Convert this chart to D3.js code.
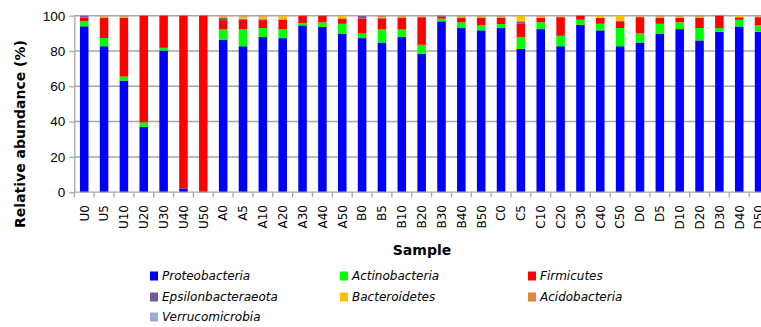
<!DOCTYPE html>
<html>
<head>
<meta charset="utf-8">
<script src="https://cdn.jsdelivr.net/npm/d3@7"></script>
<style>
  html, body { margin: 0; padding: 0; background: #fff; }
  svg { display: block; font-family: "DejaVu Sans", Verdana, sans-serif; }
  .grid line { stroke: #a6a6a6; stroke-width: 1.5; }
  .axis path, .axis line { stroke: #a6a6a6; stroke-width: 1.3; }
  .axis text { fill: #000; }
</style>
</head>
<body>
<div id="chart"></div>
<script>
// samples along the x axis
const samples = ['U0', 'U5', 'U10', 'U20', 'U30', 'U40', 'U50',
  'A0', 'A5', 'A10', 'A20', 'A30', 'A40', 'A50',
  'B0', 'B5', 'B10', 'B20', 'B30', 'B40', 'B50',
  'C0', 'C5', 'C10', 'C20', 'C30', 'C40', 'C50',
  'D0', 'D5', 'D10', 'D20', 'D30', 'D40', 'D50'];

const phyla = ['Proteobacteria', 'Actinobacteria', 'Firmicutes',
  'Epsilonbacteraeota', 'Bacteroidetes', 'Acidobacteria', 'Verrucomicrobia'];

// relative abundance (%), one value per sample
const proteobacteria = [94.0, 82.7, 63.2, 37.0, 80.3, 2.1, 0,
  86.3, 82.7, 87.9, 87.3, 94.5, 93.7, 89.9,
  87.3, 84.8, 87.9, 78.4, 96.8, 93.0, 91.7,
  93.0, 81.2, 92.4, 82.7, 94.9, 91.7, 82.7,
  84.8, 89.9, 92.4, 86.0, 90.9, 93.9, 90.9];
const actinobacteria = [3.0, 4.6, 2.3, 2.5, 1.5, 0, 0,
  5.9, 9.5, 5.1, 4.9, 1.3, 2.5, 5.5,
  2.6, 7.4, 4.3, 5.1, 1.5, 3.2, 2.8,
  2.3, 6.7, 3.8, 5.9, 2.8, 3.7, 10.3,
  5.1, 5.5, 3.8, 7.0, 2.1, 3.8, 3.6];
const firmicutes = [1.9, 11.4, 33.2, 60.5, 18.2, 97.9, 100,
  5.3, 5.5, 4.5, 5.5, 4.0, 3.6, 2.9,
  8.4, 6.1, 6.5, 15.6, 1.3, 2.5, 4.2,
  3.4, 7.5, 2.5, 10.5, 2.3, 3.3, 3.8,
  9.2, 3.3, 2.5, 5.7, 7.0, 1.4, 4.6];
const epsilonbacteraeota = [1.1, 0.3, 0.3, 0, 0, 0, 0,
  1.2, 0.6, 0.5, 0.3, 0.2, 0.2, 0.2,
  1.5, 0.6, 0.3, 0.2, 0.4, 0.3, 0.3,
  0.3, 1.4, 0.3, 0.2, 0, 0.2, 0.2,
  0.2, 0.2, 0.2, 0.2, 0, 0, 0.2];
const bacteroidetes = [0, 0.5, 0.5, 0, 0, 0, 0,
  0.8, 1.2, 1.5, 1.8, 0, 0, 1.3,
  0.2, 0.3, 0.4, 0.3, 0, 0.4, 0.4,
  0.4, 3.2, 0.4, 0.3, 0, 1.1, 3.0,
  0.3, 0.5, 0.5, 0.5, 0, 0.9, 0.3];
const acidobacteria = [0, 0.5, 0.5, 0, 0, 0, 0,
  0.5, 0.5, 0.5, 0.2, 0, 0, 0.2,
  0, 0.8, 0.6, 0.4, 0, 0.6, 0.6,
  0.6, 0, 0.6, 0.4, 0, 0, 0,
  0.4, 0.6, 0.6, 0.6, 0, 0, 0.4];
const verrucomicrobia = [0, 0, 0, 0, 0, 0, 0,
  0, 0, 0, 0, 0, 0, 0,
  0, 0, 0, 0, 0, 0, 0,
  0, 0, 0, 0, 0, 0, 0,
  0, 0, 0, 0, 0, 0, 0];

const colors = ['#0000ff', '#00ff00', '#ff0000', '#72589a', '#ffc000', '#e0853b', '#98aed6'];
const yTicks = [0, 20, 40, 60, 80, 100];

const series = [proteobacteria, actinobacteria, firmicutes, epsilonbacteraeota,
  bacteroidetes, acidobacteria, verrucomicrobia];
const rows = samples.map((s, i) => {
  const r = { sample: s };
  phyla.forEach((p, j) => { r[p] = series[j][i]; });
  return r;
});

const width = 761, height = 327;
const margin = { top: 15.7, left: 74.3, bottom: 192.2, right: 769 };

const svg = d3.select('#chart').append('svg')
  .attr('width', width).attr('height', height);

const x = d3.scaleBand().domain(samples).range([margin.left, margin.right])
  .paddingInner(0.57).paddingOuter(0.285);
const y = d3.scaleLinear().domain([0, 100]).range([margin.bottom, margin.top]);
const color = d3.scaleOrdinal().domain(phyla).range(colors);

// gridlines
svg.append('g').attr('class', 'grid')
  .selectAll('line').data(yTicks.filter((d) => d > 0)).join('line')
  .attr('x1', margin.left).attr('x2', margin.right)
  .attr('y1', (d) => y(d)).attr('y2', (d) => y(d));

// stacked bars
const stacked = d3.stack().keys(phyla)(rows);
svg.append('g').selectAll('g').data(stacked).join('g')
  .attr('fill', (d) => color(d.key))
  .selectAll('rect').data((d) => d).join('rect')
  .attr('x', (d) => x(d.data.sample))
  .attr('width', x.bandwidth())
  .attr('y', (d) => y(Math.min(100, d[1])))
  .attr('height', (d) => Math.max(0, y(d[0]) - y(Math.min(100, d[1]))));

// y axis
const yAxis = svg.append('g').attr('class', 'axis')
  .attr('transform', `translate(${margin.left},0)`)
  .call(d3.axisLeft(y).tickValues(yTicks).tickSize(5).tickSizeOuter(0).tickPadding(4));
yAxis.selectAll('text').style('font-size', '13.5px');

// x axis: ticks sit on the band edges
const step = x.step();
const xAxisG = svg.append('g').attr('class', 'axis');
xAxisG.append('line')
  .attr('x1', margin.left).attr('x2', margin.right)
  .attr('y1', margin.bottom).attr('y2', margin.bottom);
xAxisG.selectAll('line.tick').data(samples).join('line').attr('class', 'tick')
  .attr('x1', (d) => x(d) - step * 0.285).attr('x2', (d) => x(d) - step * 0.285)
  .attr('y1', margin.bottom).attr('y2', margin.bottom + 5);
xAxisG.selectAll('text').data(samples).join('text')
  .attr('transform', (d) => `translate(${x(d) + x.bandwidth() / 2},205) rotate(-90)`)
  .attr('text-anchor', 'end')
  .attr('dy', '0.36em')
  .style('font-size', '12px')
  .text((d) => d);

// axis titles
svg.append('text')
  .attr('transform', 'translate(20,134) rotate(-90)')
  .attr('text-anchor', 'middle').attr('dy', '0.36em')
  .style('font-size', '14px').style('font-weight', 'bold')
  .text('Relative abundance (%)');
svg.append('text')
  .attr('x', 422).attr('y', 255)
  .attr('text-anchor', 'middle')
  .style('font-size', '14px').style('font-weight', 'bold')
  .text('Sample');

// legend, three columns
const legendCols = [150, 340, 528];
const legendRows = [276, 297, 317];
const legend = svg.append('g').selectAll('g').data(phyla).join('g')
  .attr('transform', (d, i) => `translate(${legendCols[i % 3]},${legendRows[Math.floor(i / 3)]})`);
legend.append('rect')
  .attr('x', 0).attr('y', -4.5).attr('width', 8).attr('height', 9)
  .attr('fill', (d) => color(d));
legend.append('text')
  .attr('x', 12).attr('dy', '0.36em')
  .style('font-size', '12px').style('font-style', 'italic')
  .text((d) => d);
</script>
</body>
</html>
